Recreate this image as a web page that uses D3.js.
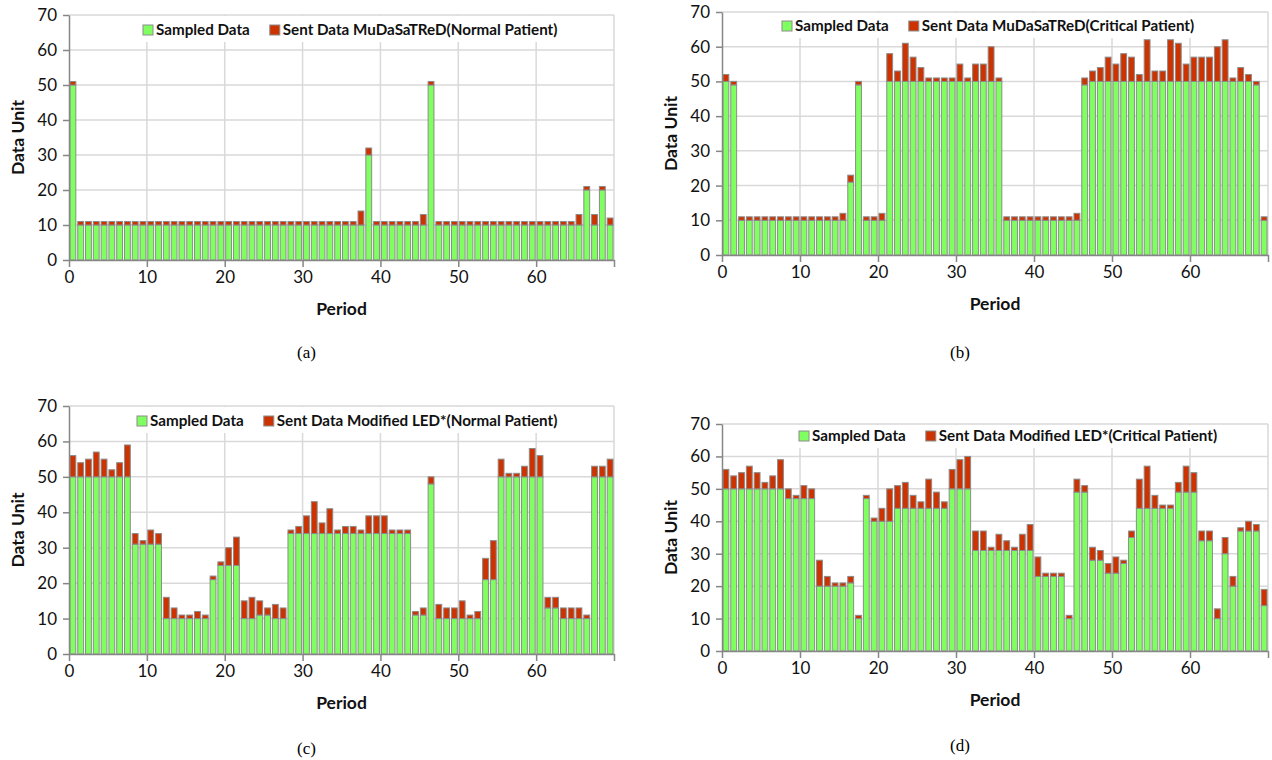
<!DOCTYPE html>
<html>
<head>
<meta charset="utf-8">
<script src="https://cdn.jsdelivr.net/npm/d3@7"></script>
<style>
  body { margin: 0; background: #fff; }
  text { font-family: Lato, "Open Sans", sans-serif; }
</style>
</head>
<body>
<svg id="chart" width="1272" height="760"></svg>
<script>
// categories and ticks
const periods = d3.range(70);
const xTickMarks = [0, 10, 20, 30, 40, 50, 60, 70];
const xTickLabels = [0, 10, 20, 30, 40, 50, 60];
const yTicks = [0, 10, 20, 30, 40, 50, 60, 70];

// (a) MuDaSaTReD, normal patient
const sampledA = [
  50,10,10,10,10,10,10,10,10,10,
  10,10,10,10,10,10,10,10,10,10,
  10,10,10,10,10,10,10,10,10,10,
  10,10,10,10,10,10,10,10,30,10,
  10,10,10,10,10,10,50,10,10,10,
  10,10,10,10,10,10,10,10,10,10,
  10,10,10,10,10,10,20,10,20,10];
const sentA = [
  1,1,1,1,1,1,1,1,1,1,
  1,1,1,1,1,1,1,1,1,1,
  1,1,1,1,1,1,1,1,1,1,
  1,1,1,1,1,1,1,4,2,1,
  1,1,1,1,1,3,1,1,1,1,
  1,1,1,1,1,1,1,1,1,1,
  1,1,1,1,1,3,1,3,1,2];

// (b) MuDaSaTReD, critical patient
const sampledB = [
  50,49,10,10,10,10,10,10,10,10,
  10,10,10,10,10,10,21,49,10,10,
  10,50,50,50,50,50,50,50,50,50,
  50,50,50,50,50,50,10,10,10,10,
  10,10,10,10,10,10,49,50,50,50,
  50,50,50,50,50,50,50,50,50,50,
  50,50,50,50,50,50,50,50,49,10];
const sentB = [
  2,1,1,1,1,1,1,1,1,1,
  1,1,1,1,1,2,2,1,1,1,
  2,8,3,11,7,4,1,1,1,1,
  5,1,5,5,10,1,1,1,1,1,
  1,1,1,1,1,2,2,3,4,7,
  5,8,7,2,12,3,3,12,11,5,
  7,7,7,10,12,1,4,2,1,1];

// (c) Modified LED*, normal patient
const sampledC = [
  50,50,50,50,50,50,50,50,31,31,
  31,31,10,10,10,10,10,10,21,25,
  25,25,10,10,11,11,10,10,34,34,
  34,34,34,34,34,34,34,34,34,34,
  34,34,34,34,11,11,48,10,10,10,
  10,10,10,21,21,50,50,50,50,50,
  50,13,13,10,10,10,10,50,50,50];
const sentC = [
  6,4,5,7,5,2,4,9,3,1,
  4,3,6,3,1,1,2,1,1,1,
  5,8,5,6,4,2,4,3,1,2,
  5,9,3,7,1,2,2,1,5,5,
  5,1,1,1,1,2,2,4,3,3,
  5,1,2,6,11,5,1,1,3,8,
  6,3,3,3,3,3,1,3,3,5];

// (d) Modified LED*, critical patient
const sampledD = [
  50,50,50,50,50,50,50,50,47,47,
  47,47,20,20,20,20,21,10,47,40,
  40,40,44,44,44,44,44,44,44,50,
  50,50,31,31,31,31,31,31,31,31,
  23,23,23,23,10,49,49,28,28,24,
  24,27,35,44,44,44,44,44,49,49,
  49,34,34,10,30,20,37,37,37,14];
const sentD = [
  6,4,5,7,5,2,4,9,3,1,
  4,3,8,3,1,1,2,1,1,1,
  4,10,7,8,4,2,9,5,2,6,
  9,10,6,6,1,5,3,1,5,8,
  6,1,1,1,1,4,2,4,3,3,
  5,1,2,9,13,4,1,1,3,8,
  6,3,3,3,5,3,1,3,2,5];

const sampledName = "Sampled Data";
const sentNames = [
  "Sent Data MuDaSaTReD(Normal Patient)",
  "Sent Data MuDaSaTReD(Critical Patient)",
  "Sent Data Modified LED*(Normal Patient)",
  "Sent Data Modified LED*(Critical Patient)"];
const captions = ["(a)", "(b)", "(c)", "(d)"];

const GREEN = "#80ff60", RED = "#cc3300", EDGE = "#8c8c8c", GRID = "#d9d9d9", AXIS = "#868686";

const panels = [
  {sampled: sampledA, sent: sentA, l: 69, r: 614, t: 15, b: 260, legX: 143, legY: 30, capY: 352},
  {sampled: sampledB, sent: sentB, l: 722, r: 1268, t: 12, b: 255, legX: 782, legY: 26, capY: 352},
  {sampled: sampledC, sent: sentC, l: 69, r: 614, t: 406, b: 654, legX: 137, legY: 421, capY: 748},
  {sampled: sampledD, sent: sentD, l: 722, r: 1268, t: 424, b: 651, legX: 799, legY: 436, capY: 745}
];

const svg = d3.select("#chart");

function drawPanel(p, k) {
  const g = svg.append("g");
  const x = d3.scaleLinear().domain([0, 70]).range([p.l, p.r]);
  const xb = d3.scaleBand().domain(periods).range([p.l, p.r])
    .paddingInner(0.25).paddingOuter(0.125);
  const y = d3.scaleLinear().domain([0, 70]).range([p.b, p.t]);

  // gridlines
  g.append("g").selectAll("line").data(yTicks.slice(1)).join("line")
    .attr("x1", p.l).attr("x2", p.r)
    .attr("y1", d => y(d)).attr("y2", d => y(d))
    .attr("stroke", GRID).attr("stroke-width", 1.5);
  g.append("g").selectAll("line").data(xTickMarks.slice(1)).join("line")
    .attr("x1", d => x(d)).attr("x2", d => x(d))
    .attr("y1", p.t).attr("y2", p.b)
    .attr("stroke", GRID).attr("stroke-width", 1.5);

  // stacked bars
  const rows = periods.map(i => ({i: i, s: p.sampled[i], t: p.sampled[i] + p.sent[i]}));
  g.append("g").selectAll("rect").data(rows).join("rect")
    .attr("x", d => xb(d.i)).attr("width", xb.bandwidth())
    .attr("y", d => y(d.s)).attr("height", d => y(0) - y(d.s))
    .attr("fill", GREEN).attr("stroke", EDGE).attr("stroke-width", 1);
  g.append("g").selectAll("rect").data(rows).join("rect")
    .attr("x", d => xb(d.i)).attr("width", xb.bandwidth())
    .attr("y", d => y(d.t)).attr("height", d => y(d.s) - y(d.t))
    .attr("fill", RED).attr("stroke", EDGE).attr("stroke-width", 1);

  // axes
  const xa = g.append("g").attr("transform", `translate(0,${p.b})`)
    .call(d3.axisBottom(x).tickValues(xTickMarks).tickSize(7).tickSizeOuter(0).tickPadding(4)
      .tickFormat(d => xTickLabels.includes(d) ? d : ""));
  const ya = g.append("g").attr("transform", `translate(${p.l},0)`)
    .call(d3.axisLeft(y).tickValues(yTicks).tickSize(6).tickSizeOuter(0).tickPadding(6));
  [xa, ya].forEach(a => {
    a.selectAll("path, line").attr("stroke", AXIS).attr("stroke-width", 1.5);
    a.selectAll("text").attr("fill", "#111").style("font-size", "17px");
  });

  // axis titles
  g.append("text").attr("transform", `translate(${p.l - 51},${(p.t + p.b) / 2}) rotate(-90)`)
    .attr("text-anchor", "middle").attr("dy", "0.35em")
    .style("font-size", "17.5px").style("font-weight", "bold").attr("fill", "#111")
    .text("Data Unit");
  g.append("text").attr("x", (p.l + p.r) / 2).attr("y", p.b + 49)
    .attr("text-anchor", "middle").attr("dy", "0.35em")
    .style("font-size", "17.5px").style("font-weight", "bold").attr("fill", "#111")
    .text("Period");

  // caption
  g.append("text").attr("x", (p.l + p.r) / 2 - 35).attr("y", p.capY)
    .attr("text-anchor", "middle").attr("dy", "0.35em")
    .style("font-family", "'Liberation Serif', 'Times New Roman', serif").style("font-size", "17px")
    .attr("fill", "#000").text(captions[k]);

  // legend
  const leg = g.append("g");
  const bg = leg.append("rect").attr("fill", "#fff");
  const items = [{name: sampledName, color: GREEN}, {name: sentNames[k], color: RED}];
  let cx = p.legX;
  items.forEach(it => {
    leg.append("rect").attr("x", cx).attr("y", p.legY - 5).attr("width", 10).attr("height", 10)
      .attr("fill", it.color).attr("stroke", EDGE);
    const t = leg.append("text").attr("x", cx + 13).attr("y", p.legY).attr("dy", "0.35em")
      .style("font-size", "15.2px").style("font-weight", "bold").attr("fill", "#111")
      .text(it.name);
    cx = cx + 13 + t.node().getComputedTextLength() + 20;
  });
  bg.attr("x", p.legX - 8).attr("y", p.t + 1)
    .attr("width", cx - p.legX - 4).attr("height", p.legY + 11 - p.t);
}

panels.forEach(drawPanel);
</script>
</body>
</html>
